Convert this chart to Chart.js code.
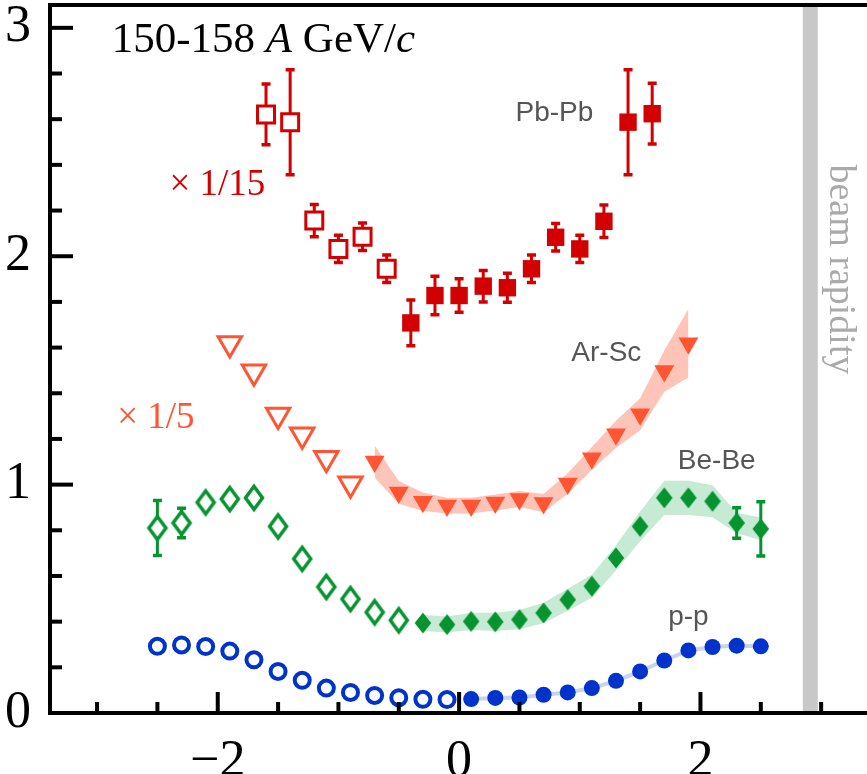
<!DOCTYPE html>
<html>
<head>
<meta charset="utf-8">
<script src="https://cdn.jsdelivr.net/npm/chart.js@4.4.1/dist/chart.umd.min.js"></script>
<style>
  html, body { margin: 0; padding: 0; background: #fff; }
  #chart { display: block; }
</style>
</head>
<body>
<canvas id="chart" width="867" height="774"></canvas>
<script>
// ---- data (rapidity y, dn/dy) ----
// p-p
const ppOpenX = [-2.5, -2.3, -2.1, -1.9, -1.7, -1.5, -1.3, -1.1, -0.9, -0.7, -0.5, -0.3, -0.1];
const ppOpenY = [0.292, 0.298, 0.291, 0.271, 0.233, 0.182, 0.143, 0.109, 0.090, 0.077, 0.067, 0.060, 0.059];
const ppX = [0.1, 0.3, 0.5, 0.7, 0.9, 1.1, 1.3, 1.5, 1.7, 1.9, 2.1, 2.3, 2.5];
const ppY = [0.061, 0.066, 0.068, 0.080, 0.090, 0.109, 0.141, 0.182, 0.230, 0.274, 0.289, 0.295, 0.292];

// Be-Be
const beOpenX = [-2.5, -2.3, -2.1, -1.9, -1.7, -1.5, -1.3, -1.1, -0.9, -0.7, -0.5];
const beOpenY = [0.810, 0.832, 0.922, 0.937, 0.942, 0.817, 0.675, 0.552, 0.499, 0.441, 0.406];
const beOpenErr = [0.12, 0.065, 0, 0, 0, 0, 0, 0, 0, 0, 0];
const beX = [-0.3, -0.1, 0.1, 0.3, 0.5, 0.7, 0.9, 1.1, 1.3, 1.5, 1.7, 1.9, 2.1, 2.3, 2.5];
const beY = [0.394, 0.387, 0.401, 0.399, 0.409, 0.438, 0.496, 0.555, 0.679, 0.817, 0.942, 0.942, 0.927, 0.832, 0.806];
const beErr = [0, 0, 0, 0, 0, 0, 0, 0, 0, 0, 0, 0, 0, 0.067, 0.119];
const beSys = [0.035, 0.035, 0.038, 0.04, 0.042, 0.045, 0.048, 0.05, 0.055, 0.065, 0.075, 0.075, 0.07, 0.045, 0.05];

// Ar-Sc (x 1/5)
const arOpenX = [-1.9, -1.7, -1.5, -1.3, -1.1, -0.9];
const arOpenY = [1.618, 1.494, 1.305, 1.218, 1.115, 1.004];
const arX = [-0.7, -0.5, -0.3, -0.1, 0.1, 0.3, 0.5, 0.7, 0.9, 1.1, 1.3, 1.5, 1.7, 1.9];
const arY = [1.101, 0.966, 0.925, 0.908, 0.908, 0.922, 0.937, 0.919, 1.005, 1.115, 1.220, 1.308, 1.497, 1.619];
const arSys = [0.07, 0.05, 0.04, 0.035, 0.035, 0.035, 0.035, 0.04, 0.045, 0.05, 0.06, 0.07, 0.09, 0.15];

// Pb-Pb (x 1/15)
const pbOpenX = [-1.6, -1.4, -1.2, -1.0, -0.8, -0.6];
const pbOpenY = [2.621, 2.587, 2.156, 2.032, 2.085, 1.945];
const pbOpenErr = [0.133, 0.23, 0.071, 0.06, 0.06, 0.06];
const pbX = [-0.4, -0.2, 0.0, 0.2, 0.4, 0.6, 0.8, 1.0, 1.2, 1.4, 1.6];
const pbY = [1.708, 1.828, 1.828, 1.869, 1.862, 1.945, 2.083, 2.032, 2.153, 2.587, 2.624];
const pbErr = [0.1, 0.084, 0.073, 0.069, 0.064, 0.06, 0.06, 0.06, 0.071, 0.23, 0.133];

const beamRapidity = 2.91;

// axis ticks
const xTickLabels = [-2, 0, 2];
const xMinorStep = 0.5;
const yTickLabels = [0, 1, 2, 3];
const yMinorStep = 0.2;
const X_MIN = -3.39, X_MAX = 3.38, Y_MIN = 0, Y_MAX = 3.10;

// ---- styles ----
const RED = '#d20000';
const ORANGE = '#ff5533';
const GREEN = '#069430';
const BLUE = '#0033cc';
const GRAY = '#555555';

const pts = (xs, ys, d = 0) => xs.map((x, i) => ({ x, y: ys[i] + (Array.isArray(d) ? d[i] : d) }));
const neg = a => a.map(v => -v);

function diamond(hw, hh, lw, fill, stroke) {
    const c = document.createElement('canvas');
    c.width = 2 * Math.ceil(hw + lw * 1.5 + 1);
    c.height = 2 * Math.ceil(hh + lw * 1.8 + 1);
    const g = c.getContext('2d');
    const cx = c.width / 2, cy = c.height / 2;
    g.beginPath();
    g.moveTo(cx, cy - hh); g.lineTo(cx + hw, cy); g.lineTo(cx, cy + hh); g.lineTo(cx - hw, cy);
    g.closePath();
    g.fillStyle = fill; g.fill();
    if (lw) { g.lineWidth = lw; g.strokeStyle = stroke; g.lineJoin = 'miter'; g.stroke(); }
    return c;
}

const band = (xs, ys, sys, color) => ([
    { type: 'line', data: pts(xs, ys, sys), borderColor: 'transparent', pointRadius: 0, fill: false, order: 10, tension: 0 },
    { type: 'line', data: pts(xs, ys, neg(sys)), borderColor: 'transparent', pointRadius: 0, fill: '-1', backgroundColor: color, order: 10, tension: 0 }
]);

const datasets = [
    ...band(arX, arY, arSys, 'rgba(255,85,51,0.35)'),
    ...band(beX, beY, beSys, 'rgba(0,160,60,0.22)'),
    { type: 'line', data: pts(ppX, ppY), borderColor: 'rgba(0,51,204,0.22)', borderWidth: 4, pointRadius: 0, fill: false, order: 9 },
    // Pb-Pb
    { data: pts(pbOpenX, pbOpenY), errors: pbOpenErr, errColor: RED, pointStyle: 'rect', pointRadius: 12, borderWidth: 3, borderColor: RED, backgroundColor: '#fff', order: 1 },
    { data: pts(pbX, pbY), errors: pbErr, errColor: RED, pointStyle: 'rect', pointRadius: 12.3, borderWidth: 0, backgroundColor: RED, order: 1 },
    // Ar-Sc
    { data: pts(arOpenX, arOpenY), pointStyle: 'triangle', rotation: 180, pointRadius: 13.5, borderWidth: 3, borderColor: ORANGE, backgroundColor: '#fff', order: 1 },
    { data: pts(arX, arY), pointStyle: 'triangle', rotation: 180, pointRadius: 11.5, borderWidth: 0, backgroundColor: ORANGE, order: 1 },
    // Be-Be
    { data: pts(beOpenX, beOpenY), errors: beOpenErr, errColor: GREEN, pointStyle: diamond(8.5, 11.5, 3.5, '#fff', GREEN), pointRadius: 10, order: 1 },
    { data: pts(beX, beY), errors: beErr, errColor: GREEN, pointStyle: diamond(8.3, 10.5, 0, GREEN), pointRadius: 10, order: 1 },
    // p-p
    { data: pts(ppOpenX, ppOpenY), pointStyle: 'circle', pointRadius: 7.5, borderWidth: 4, borderColor: BLUE, backgroundColor: '#fff', order: 1 },
    { data: pts(ppX, ppY), pointStyle: 'circle', pointRadius: 8, borderWidth: 0, backgroundColor: BLUE, order: 1 }
];

const notes = [
    { text: 'Pb-Pb', x: 0.79, y: 2.59, color: GRAY, font: '28px "Liberation Sans"' },
    { text: 'Ar-Sc', x: 1.22, y: 1.543, color: GRAY, font: '28px "Liberation Sans"' },
    { text: 'Be-Be', x: 2.135, y: 1.07, color: GRAY, font: '28px "Liberation Sans"' },
    { text: 'p-p', x: 1.90, y: 0.387, color: GRAY, font: '28px "Liberation Sans"' },
    { text: '\u00d7 1/15', x: -2.003, y: 2.27, color: RED, font: '37px "Liberation Serif"' },
    { text: '\u00d7 1/5', x: -2.513, y: 1.25, color: ORANGE, font: '37px "Liberation Serif"' }
];

// error bars drawn right under each marker dataset
const errorBars = {
    id: 'errorBars',
    beforeDatasetDraw(chart, args) {
        const ds = chart.data.datasets[args.index];
        if (!ds.errors) return;
        const { ctx, scales: { x, y } } = chart;
        ctx.save();
        ctx.strokeStyle = ds.errColor;
        ds.data.forEach((p, i) => {
            const e = ds.errors[i];
            if (!e) return;
            const px = x.getPixelForValue(p.x);
            const y1 = y.getPixelForValue(p.y - e), y2 = y.getPixelForValue(p.y + e);
            ctx.lineWidth = 3;
            ctx.beginPath(); ctx.moveTo(px, y1); ctx.lineTo(px, y2); ctx.stroke();
            ctx.lineWidth = 3.5;
            ctx.beginPath();
            ctx.moveTo(px - 4.5, y1); ctx.lineTo(px + 4.5, y1);
            ctx.moveTo(px - 4.5, y2); ctx.lineTo(px + 4.5, y2);
            ctx.stroke();
        });
        ctx.restore();
    }
};

const decor = {
    id: 'decor',
    beforeDatasetsDraw(chart) {
        const { ctx, chartArea: a, scales: { x } } = chart;
        const bx = x.getPixelForValue(beamRapidity);
        ctx.save();
        ctx.fillStyle = '#c8c8c8';
        ctx.fillRect(bx - 7.5, a.top + 2, 15, a.bottom - a.top - 2);
        ctx.restore();
    },
    afterDatasetsDraw(chart) {
        const { ctx, chartArea: a, scales: { x, y } } = chart;
        ctx.save();
        // frame
        ctx.strokeStyle = '#000';
        ctx.lineWidth = 4;
        ctx.beginPath();
        ctx.moveTo(a.right, a.top); ctx.lineTo(a.left, a.top); ctx.lineTo(a.left, a.bottom); ctx.lineTo(a.right, a.bottom);
        ctx.stroke();
        // inward ticks
        x.ticks.forEach(t => {
            const px = x.getPixelForValue(t.value);
            const len = xTickLabels.includes(t.value) ? 21 : 11;
            ctx.lineWidth = 4;
            ctx.beginPath(); ctx.moveTo(px, a.bottom); ctx.lineTo(px, a.bottom - len); ctx.stroke();
        });
        y.ticks.forEach(t => {
            const py = y.getPixelForValue(t.value);
            const len = yTickLabels.includes(t.value) ? 23 : 12;
            ctx.lineWidth = 4;
            ctx.beginPath(); ctx.moveTo(a.left, py); ctx.lineTo(a.left + len, py); ctx.stroke();
        });
        // series labels
        ctx.textAlign = 'center';
        ctx.textBaseline = 'alphabetic';
        notes.forEach(n => {
            ctx.font = n.font;
            ctx.fillStyle = n.color;
            ctx.fillText(n.text, x.getPixelForValue(n.x), y.getPixelForValue(n.y));
        });
        // energy title with italic A and c
        const parts = [['150-158 ', ''], ['A', 'italic '], [' GeV/', ''], ['c', 'italic ']];
        let tx = x.getPixelForValue(-2.878);
        const ty = y.getPixelForValue(2.896);
        ctx.textAlign = 'left';
        ctx.fillStyle = '#000';
        parts.forEach(([s, st]) => {
            ctx.font = st + '43px "Liberation Serif"';
            ctx.fillText(s, tx, ty);
            tx += ctx.measureText(s).width;
        });
        // beam rapidity
        ctx.translate(x.getPixelForValue(3.16), y.getPixelForValue(1.942));
        ctx.rotate(Math.PI / 2);
        ctx.font = '38px "Liberation Serif"';
        ctx.fillStyle = '#aaaaaa';
        ctx.textAlign = 'center';
        ctx.textBaseline = 'middle';
        ctx.fillText('beam rapidity', 0, 0);
        ctx.restore();
    }
};

const stepTicks = (lo, hi, step) => {
    const out = [];
    for (let i = Math.ceil(lo / step); i * step <= hi + 1e-9; i++) out.push({ value: Math.round(i * step * 1000) / 1000 });
    return out;
};

new Chart(document.getElementById('chart'), {
    type: 'scatter',
    data: { datasets },
    options: {
        responsive: false,
        animation: false,
        events: [],
        layout: { autoPadding: false, padding: { top: 5, right: 0, left: 0, bottom: 0 } },
        plugins: { legend: { display: false }, tooltip: { enabled: false } },
        scales: {
            x: {
                type: 'linear', min: X_MIN, max: X_MAX,
                grid: { display: false }, border: { display: false },
                afterBuildTicks: s => { s.ticks = stepTicks(-3, 3, xMinorStep); },
                afterFit: s => { s.height = 61; s.paddingLeft = 0; s.paddingRight = 0; },
                ticks: {
                    autoSkip: false, maxRotation: 0, padding: 10, color: '#000',
                    font: { family: 'Liberation Serif', size: 52 },
                    callback: v => xTickLabels.includes(v) ? (v < 0 ? '\u2212' + Math.abs(v) : String(v)) : ''
                }
            },
            y: {
                type: 'linear', min: Y_MIN, max: Y_MAX,
                grid: { display: false }, border: { display: false },
                afterBuildTicks: s => { s.ticks = stepTicks(0, 3, yMinorStep); },
                afterFit: s => { s.width = 50; s.paddingTop = 0; s.paddingBottom = 0; },
                ticks: {
                    autoSkip: false, padding: 11, color: '#000',
                    font: { family: 'Liberation Serif', size: 52 },
                    callback: v => yTickLabels.includes(v) ? String(v) : ''
                }
            }
        }
    },
    plugins: [errorBars, decor]
});
</script>
</body>
</html>
